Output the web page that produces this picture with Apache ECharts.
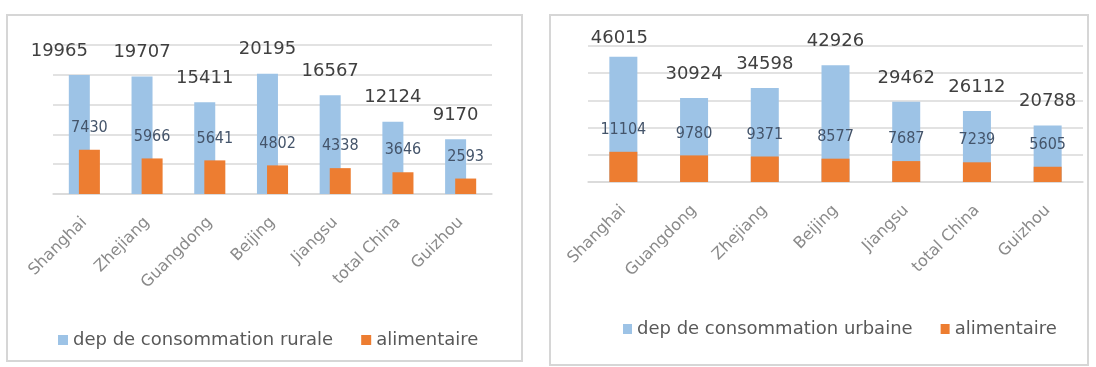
<!DOCTYPE html>
<html>
<head>
<meta charset="utf-8">
<script src="https://cdn.jsdelivr.net/npm/echarts@6/dist/echarts.min.js"></script>
<style>
html,body{margin:0;padding:0;background:#fff;}
#c{width:1096px;height:367px;}
</style>
</head>
<body>
<div id="c"></div>
<script>
// ---- data ----
const ruralCategories = ['Shanghai', 'Zhejiang', 'Guangdong', 'Beijing', 'Jiangsu', 'total China', 'Guizhou'];
const ruralTotal = [19965, 19707, 15411, 20195, 16567, 12124, 9170];
const ruralFood = [7430, 5966, 5641, 4802, 4338, 3646, 2593];

const urbanCategories = ['Shanghai', 'Guangdong', 'Zhejiang', 'Beijing', 'Jiangsu', 'total China', 'Guizhou'];
const urbanTotal = [46015, 30924, 34598, 42926, 29462, 26112, 20788];
const urbanFood = [11104, 9780, 9371, 8577, 7687, 7239, 5605];

const ruralName = 'dep de consommation rurale';
const urbanName = 'dep de consommation urbaine';
const foodName = 'alimentaire';

// ---- styles ----
const BLUE = '#9DC3E6';
const ORANGE = '#ED7D31';
const GRID = '#d9d9d9';
const FONT = "'DejaVu Sans', sans-serif";
const NARROW = "'DejaVu Sans Condensed', 'Liberation Sans Narrow', 'Liberation Sans', sans-serif";

const bigLabel = {
  show: true, position: 'top', distance: 15,
  fontFamily: FONT, fontSize: 18, color: '#404040'
};
const smallLabel = {
  show: true, position: 'top', distance: 14,
  fontFamily: NARROW, fontSize: 16, color: '#44546A'
};

function xAxis(gridIndex, cats) {
  return {
    type: 'category', gridIndex: gridIndex, data: cats,
    axisLine: { lineStyle: { color: GRID, width: 1.5 } },
    axisTick: { show: false },
    axisLabel: {
      rotate: 45, margin: 26, interval: 0,
      fontFamily: FONT, fontSize: 16, color: '#8a8a8a'
    }
  };
}
function yAxis(gridIndex, max, interval) {
  return {
    type: 'value', gridIndex: gridIndex, min: 0, max: max, interval: interval,
    axisLabel: { show: false }, axisLine: { show: false }, axisTick: { show: false },
    splitLine: { lineStyle: { color: GRID, width: 1.5 } }
  };
}

const chart = echarts.init(document.getElementById('c'), null, { renderer: 'canvas' });
chart.setOption({
  animation: false,
  backgroundColor: '#fff',
  graphic: [
    { type: 'rect', shape: { x: 7, y: 15, width: 515, height: 346 },
      style: { fill: 'none', stroke: '#d6d6d6', lineWidth: 2 }, z: -10 },
    { type: 'rect', shape: { x: 550, y: 15, width: 538, height: 350 },
      style: { fill: 'none', stroke: '#d6d6d6', lineWidth: 2 }, z: -10 }
  ],
  grid: [
    { left: 53, right: 1096 - 492, top: 45, bottom: 367 - 194 },
    { left: 588, right: 1096 - 1083, top: 46, bottom: 367 - 182 }
  ],
  legend: [
    { data: [ruralName, foodName], left: 53, top: 326, itemWidth: 10, itemHeight: 10, itemGap: 28,
      icon: 'rect', textStyle: { fontFamily: FONT, fontSize: 18, color: '#595959' }, selectedMode: false },
    { data: [urbanName, foodName], left: 618, top: 315, itemWidth: 9, itemHeight: 10, itemGap: 28,
      icon: 'rect', textStyle: { fontFamily: FONT, fontSize: 18, color: '#595959' }, selectedMode: false }
  ],
  xAxis: [xAxis(0, ruralCategories), xAxis(1, urbanCategories)],
  yAxis: [yAxis(0, 25000, 5000), yAxis(1, 50000, 10000)],
  series: [
    { name: ruralName, type: 'bar', xAxisIndex: 0, yAxisIndex: 0,
      barWidth: 21, barGap: '-52%', itemStyle: { color: BLUE },
      label: bigLabel,
      data: ruralTotal.map((v, i) => i === 0 ? { value: v, label: { offset: [-20, 0] } } : v) },
    { name: foodName, type: 'bar', xAxisIndex: 0, yAxisIndex: 0,
      barWidth: 21, barGap: '-52%', itemStyle: { color: ORANGE },
      label: smallLabel, data: ruralFood },
    { name: urbanName, type: 'bar', xAxisIndex: 1, yAxisIndex: 1,
      barWidth: 28, barGap: '-100%', itemStyle: { color: BLUE },
      label: bigLabel,
      data: urbanTotal.map((v, i) => i === 0 ? { value: v, label: { offset: [-4, 5] } } : v) },
    { name: foodName, type: 'bar', xAxisIndex: 1, yAxisIndex: 1,
      barWidth: 28, barGap: '-100%', itemStyle: { color: ORANGE },
      label: smallLabel, data: urbanFood }
  ]
});
</script>
</body>
</html>
